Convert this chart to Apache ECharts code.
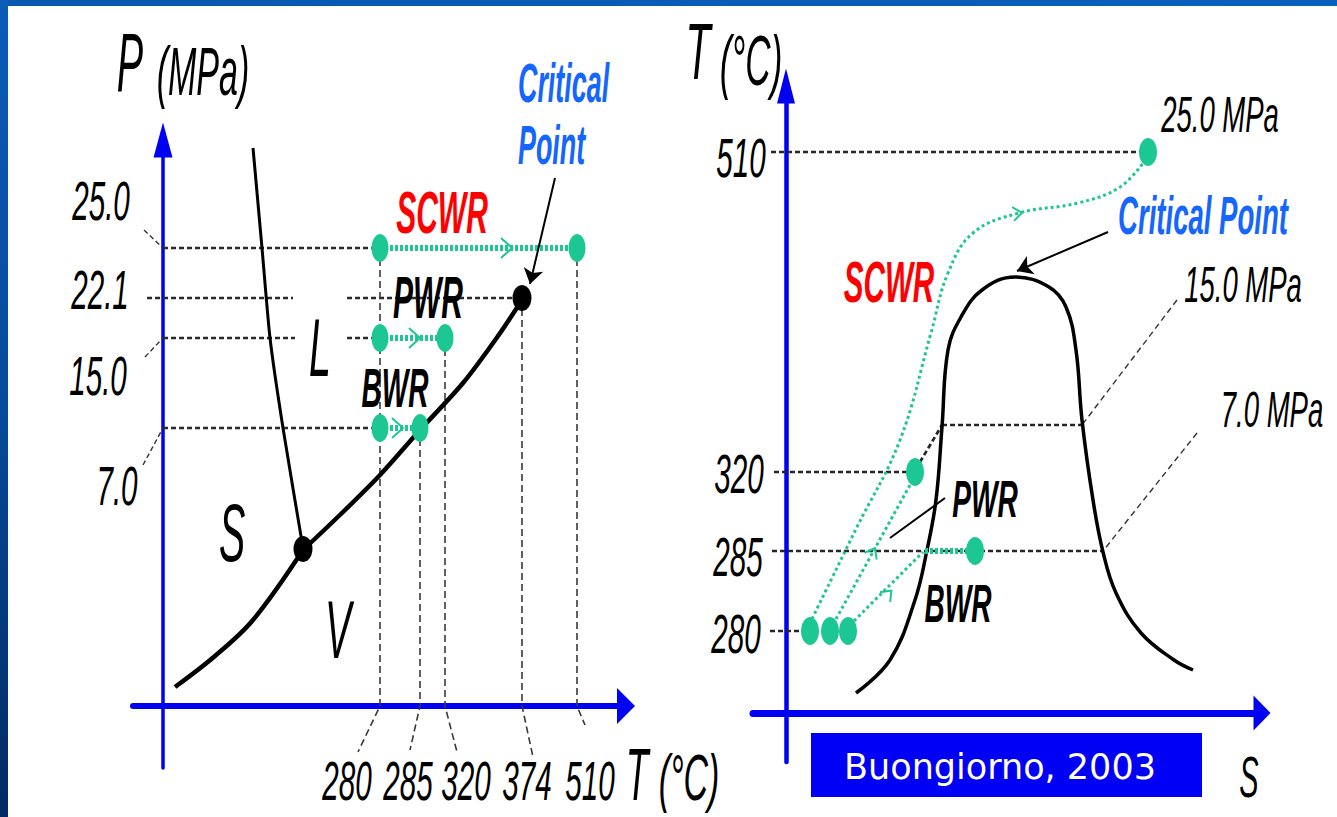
<!DOCTYPE html>
<html><head><meta charset="utf-8">
<script src="https://cdn.jsdelivr.net/npm/echarts@6/dist/echarts.min.js"></script>
<style>html,body{margin:0;padding:0;background:#fff;overflow:hidden}#c{width:1337px;height:817px}</style>
</head><body><div id="c"></div>
<script>
// ================= DATA (schematic diagram units) =================
// --- P-T diagram (left) ---
const ptTempLabels = ['280', '285', '320', '374', '510'];
const ptTempPos    = [217, 257, 282, 359, 414];
const ptPresLabels = ['25.0', '22.1', '15.0', '7.0'];
const ptPresPos    = [458, 408, 368, 278];
const sublimationCurve  = [[12, 19], [52, 50], [90, 86], [140, 156]];
const vaporizationCurve = [[140, 156], [180, 194], [217, 231], [257, 276], [300, 323], [335, 370], [359, 406]];
const meltingCurve      = [[90, 558], [99, 458], [107, 368], [120, 278], [140, 158]];
const triplePoint       = [140, 157];
const criticalT = '374', criticalP = '22.1';
// reactors: name, inlet T, outlet T, pressure
const reactorNames = ['SCWR', 'PWR', 'BWR'];
const reactorTin   = ['280', '280', '280'];
const reactorTout  = ['510', '320', '285'];
const reactorP     = ['25.0', '15.0', '7.0'];
const phaseLabels  = ['S', 'L', 'V'];

// --- T-s diagram (right) ---
const tsTempLabels = ['510', '320', '285', '280'];
const tsTempPos    = [561, 241, 162, 82];
const isobarLabels = ['25.0 MPa', '15.0 MPa', '7.0 MPa'];
const domeCurve = [[70, 20], [104, 53], [129, 113], [141, 163], [150, 213], [156, 286], [162, 363], [175, 396],
  [196, 423], [229, 436], [263, 426], [280, 406], [290, 363], [296, 293], [307, 213], [317, 161], [330, 120],
  [355, 80], [388, 53], [407, 43]];
const scwrTsPath = [[26, 94], [70, 184], [114, 273], [145, 380], [162, 440], [187, 480], [233, 500], [292, 510], [334, 526], [360, 554]];
const pwrTsPath  = [[50, 94], [124, 228]];
const bwrTsPath  = [[68, 92], [137, 161]];
const bwrTsBoil  = [[139, 162], [189, 162]];
const tsPoints   = [[24, 82], [44, 82], [62, 82], [129, 241], [189, 162], [362, 561]];
const tsPwrExt   = [[134, 251], [156, 288]];
const tsIsobar15 = [[156, 288], [296, 288]];

// ================= STYLE / LAYOUT =================
const GREEN = '#1dc794';
const AXIS_BLUE = '#0000f2';
const FONT = '"Liberation Sans", Arial, sans-serif';
const idxT = l => ptTempPos[ptTempLabels.indexOf(l)];
const idxP = l => ptPresPos[ptPresLabels.indexOf(l)];
const tsT = l => tsTempPos[tsTempLabels.indexOf(l)];

const chart = echarts.init(document.getElementById('c'), null, {renderer: 'svg', width: 1337, height: 817});

function textSeries(grid, items) {
  return {
    type: 'custom', coordinateSystem: 'cartesian2d', xAxisIndex: grid, yAxisIndex: grid,
    z: 20, silent: true, clip: false,
    data: items.map(it => [it.pos[0], it.pos[1]]),
    renderItem: function (params, api) {
      const it = items[params.dataIndex];
      const p = api.coord([api.value(0), api.value(1)]);
      return {
        type: 'text', x: p[0], y: p[1], scaleX: it.sx,
        style: {
          text: it.text, fontFamily: FONT, fontSize: it.size, fontStyle: 'italic',
          fontWeight: it.bold ? 'bold' : 'normal', fill: it.color || '#000',
          align: it.align || 'center', verticalAlign: 'middle'
        }
      };
    }
  };
}
function chevronSeries(grid, items, size, width) {
  return {
    type: 'custom', coordinateSystem: 'cartesian2d', xAxisIndex: grid, yAxisIndex: grid,
    z: 8, silent: true, clip: false,
    data: items,
    renderItem: function (params, api) {
      const p = api.coord([api.value(0), api.value(1)]);
      return {
        type: 'polyline', x: p[0], y: p[1], rotation: api.value(2) * Math.PI / 180,
        shape: {points: [[-size[0], -size[1]], [2, 0], [-size[0], size[1]]]},
        style: {stroke: GREEN, lineWidth: width, fill: null}
      };
    }
  };
}
function linesSeries(grid, polylines, style, z, extra) {
  return Object.assign({
    type: 'lines', coordinateSystem: 'cartesian2d', xAxisIndex: grid, yAxisIndex: grid,
    polyline: true, clip: false, silent: true, z: z,
    data: polylines.map(c => ({coords: c})),
    lineStyle: Object.assign({opacity: 1}, style)
  }, extra || {});
}
function curve(grid, data, color, width, smooth, z, type) {
  return {
    type: 'line', xAxisIndex: grid, yAxisIndex: grid, data: data, smooth: smooth,
    showSymbol: false, symbol: 'none', clip: false, silent: true, z: z,
    lineStyle: {color: color, width: width, type: type || 'solid', cap: 'butt'}
  };
}

// ---------- left panel geometry built from data ----------
const ptHGuides = [
  [[0, idxP('25.0')], [idxT('280'), idxP('25.0')]],
  [[-16, idxP('22.1')], [130, idxP('22.1')]],
  [[184, idxP('22.1')], [idxT(criticalT) - 7, idxP(criticalP)]],
  [[0, idxP('15.0')], [132, idxP('15.0')]],
  [[184, idxP('15.0')], [idxT('280'), idxP('15.0')]],
  [[0, idxP('7.0')], [idxT('280'), idxP('7.0')]]
];
const ptPLeaders = [
  [[-19, 476], [0, idxP('25.0')]],
  [[-18, 349], [0, idxP('15.0')]],
  [[-20, 241], [0, idxP('7.0')]]
];
const ptTempTop = ['25.0', '7.0', '15.0', '22.1', '25.0'];
const ptTempLeaderEnd = [[195, -46], [247, -44], [294, -46], [370, -51], [422, -19]];
const ptVGuides = ptTempLabels.map((l, i) => [[ptTempPos[i], idxP(ptTempTop[i])], [ptTempPos[i], 0], ptTempLeaderEnd[i]]);
const reactorLines = reactorNames.map((n, i) => [[idxT(reactorTin[i]), idxP(reactorP[i])], [idxT(reactorTout[i]), idxP(reactorP[i])]]);
const reactorDots = [];
reactorNames.forEach((n, i) => { reactorDots.push(reactorLines[i][0], reactorLines[i][1]); });
const ptChevrons = [[347, idxP('25.0'), 0], [255, idxP('15.0'), 0], [238, idxP('7.0'), 0]];

const ptTexts = [].concat(
  ptTempLabels.map((t, i) => ({text: t, pos: [[184, -74], [245, -74], [303, -74], [364, -74], [427, -74]][i], size: 56, sx: 0.53})),
  ptPresLabels.map((t, i) => ({text: t, pos: [[-62, 506], [-63, 417], [-65, 331], [-46, 221]][i], size: 56, sx: 0.53})),
  [
    {text: 'P', pos: [-33, 644], size: 84, sx: 0.47},
    {text: '(MPa)', pos: [40, 635], size: 68, sx: 0.5},
    {text: 'T', pos: [474, -68], size: 74, sx: 0.5},
    {text: '(°C)', pos: [526, -72], size: 64, sx: 0.53},
    {text: phaseLabels[0], pos: [69, 173], size: 82, sx: 0.48},
    {text: phaseLabels[1], pos: [157, 358], size: 82, sx: 0.48},
    {text: phaseLabels[2], pos: [175, 76], size: 82, sx: 0.48},
    {text: reactorNames[0], pos: [279, 494], size: 60, sx: 0.5, bold: true, color: '#ff0000'},
    {text: reactorNames[1], pos: [265, 409], size: 60, sx: 0.5, bold: true},
    {text: reactorNames[2], pos: [232, 319], size: 56, sx: 0.5, bold: true},
    {text: 'Critical', pos: [355, 624], size: 56, sx: 0.48, bold: true, color: '#1565ff', align: 'left'},
    {text: 'Point', pos: [355, 562], size: 56, sx: 0.48, bold: true, color: '#1565ff', align: 'left'}
  ]
);

// ---------- right panel ----------
const tsHGuides = [
  [[-15, tsT('510')], [362, tsT('510')]],
  [[-12, tsT('320')], [129, tsT('320')]],
  [[-14, tsT('285')], [317, tsT('285')]],
  [[-16, tsT('280')], [24, tsT('280')]],
  tsIsobar15, tsPwrExt
];
const tsLeaders = [[[391, 413], [296, 288]], [[411, 280], [317, 162]]];
const tsChevrons = [[234, 500, 8], [88, 163, 61], [104, 121, 46]];
const tsTexts = [].concat(
  tsTempLabels.map((t, i) => ({text: t, pos: [[-45, 556], [-47, 240], [-48, 157], [-50, 80]][i], size: 56, sx: 0.53})),
  isobarLabels.map((t, i) => ({text: t, pos: [[434, 598], [457, 428], [486, 303]][i], size: 50, sx: 0.55})),
  [
    {text: 'T', pos: [-88, 662], size: 80, sx: 0.51},
    {text: '(°C)', pos: [-35, 652], size: 70, sx: 0.5},
    {text: reactorNames[0], pos: [103, 430], size: 57, sx: 0.52, bold: true, color: '#ff0000'},
    {text: 'Critical Point', pos: [417, 497], size: 53, sx: 0.52, bold: true, color: '#1565ff'},
    {text: reactorNames[1], pos: [199, 214], size: 52, sx: 0.54, bold: true},
    {text: reactorNames[2], pos: [172, 110], size: 54, sx: 0.52, bold: true},
    {text: 'S', pos: [463, -64], size: 58, sx: 0.5}
  ]
);

function axisPair(grid, xr, yr, xw, yw, xArrow, yArrow) {
  return {
    x: {type: 'value', gridIndex: grid, min: xr[0], max: xr[1], axisTick: {show: false}, axisLabel: {show: false},
      splitLine: {show: false},
      axisLine: {show: true, onZero: true, symbol: ['none', 'triangle'], symbolSize: xArrow,
        lineStyle: {color: AXIS_BLUE, width: xw}}},
    y: {type: 'value', gridIndex: grid, min: yr[0], max: yr[1], axisTick: {show: false}, axisLabel: {show: false},
      splitLine: {show: false},
      axisLine: {show: true, onZero: true, symbol: ['none', 'triangle'], symbolSize: yArrow,
        lineStyle: {color: AXIS_BLUE, width: yw}}}
  };
}
const A0 = axisPair(0, [-30, 463], [-62, 566], 6, 3.5, [36, 18], [19, 35]);
const A1 = axisPair(1, [-33, 476], [-49, 627], 7, 4.5, [35, 17], [18, 35]);

const option = {
  backgroundColor: '#ffffff',
  animation: false,
  grid: [
    {left: 133, top: 140, width: 493, height: 628, containLabel: false, outerBoundsMode: 'none'},
    {left: 753, top: 86, width: 509, height: 676, containLabel: false, outerBoundsMode: 'none'}
  ],
  xAxis: [A0.x, A1.x],
  yAxis: [A0.y, A1.y],
  graphic: [
    {type: 'rect', z: 100, shape: {x: 0, y: 0, width: 1337, height: 6},
      style: {fill: {type: 'linear', x: 0, y: 0, x2: 1, y2: 0, colorStops: [{offset: 0, color: '#0857b0'}, {offset: 1, color: '#0a60bd'}]}}},
    {type: 'rect', z: 100, shape: {x: 0, y: 0, width: 8, height: 817},
      style: {fill: {type: 'linear', x: 0, y: 0, x2: 0, y2: 1, colorStops: [{offset: 0, color: '#0a5cb8'}, {offset: 0.5, color: '#064a9a'}, {offset: 1, color: '#022a62'}]}}},
    {type: 'rect', z: 100, shape: {x: 811, y: 733, width: 391, height: 64}, style: {fill: '#0000f5'}},
    {type: 'text', z: 101, x: 1000, y: 767,
      style: {text: 'Buongiorno, 2003', fill: '#ffffff', fontFamily: '"DejaVu Sans", sans-serif', fontSize: 35,
        align: 'center', verticalAlign: 'middle'}}
  ],
  series: [
    // ---- left P-T ----
    linesSeries(0, ptHGuides, {color: '#2a2a2a', width: 2.5, type: [5, 3]}, 2),
    linesSeries(0, ptPLeaders, {color: '#333', width: 1.4, type: [5, 3]}, 2),
    linesSeries(0, ptVGuides, {color: '#3a3a3a', width: 1.6, type: [7, 4]}, 2),
    curve(0, meltingCurve, '#000', 3, 0.2, 4),
    curve(0, sublimationCurve, '#000', 4.5, 0.35, 4),
    curve(0, vaporizationCurve, '#000', 4.5, 0.3, 4),
    linesSeries(0, reactorLines, {color: GREEN, width: 6, type: [3, 2], cap: 'butt'}, 5),
    chevronSeries(0, ptChevrons, [9, 10], 2),
    linesSeries(0, [[[392, 528], [367, 422]]], {color: '#000', width: 2}, 6,
      {polyline: false, symbol: ['none', 'arrow'], symbolSize: 15}),
    {type: 'scatter', xAxisIndex: 0, yAxisIndex: 0, z: 7, silent: true, symbol: 'circle', symbolSize: [17, 28],
      itemStyle: {color: GREEN, opacity: 1}, data: reactorDots},
    {type: 'scatter', xAxisIndex: 0, yAxisIndex: 0, z: 7, silent: true, symbol: 'circle', symbolSize: [19, 26],
      itemStyle: {color: '#000', opacity: 1}, data: [[idxT(criticalT), idxP(criticalP)], triplePoint]},
    textSeries(0, ptTexts),

    // ---- right T-s ----
    linesSeries(1, tsHGuides, {color: '#262626', width: 2.7, type: [5, 3]}, 2),
    linesSeries(1, tsLeaders, {color: '#333', width: 1.4, type: [6, 4]}, 2),
    linesSeries(1, [[[104, 175], [159, 215]]], {color: '#000', width: 2}, 6),
    linesSeries(1, [[[322, 481], [231, 442]]], {color: '#000', width: 2}, 6,
      {polyline: false, symbol: ['none', 'arrow'], symbolSize: 15}),
    curve(1, domeCurve, '#000', 3.5, 0.4, 4),
    curve(1, scwrTsPath, GREEN, 3, 0.4, 5, [3, 3]),
    curve(1, pwrTsPath, GREEN, 3, false, 5, [3, 3]),
    curve(1, bwrTsPath, GREEN, 3, false, 5, [3, 3]),
    linesSeries(1, [bwrTsBoil], {color: GREEN, width: 6, type: [3, 2], cap: 'butt'}, 5),
    chevronSeries(1, tsChevrons, [7, 7], 2),
    {type: 'scatter', xAxisIndex: 1, yAxisIndex: 1, z: 7, silent: true, symbol: 'circle', symbolSize: [18, 28],
      itemStyle: {color: GREEN, opacity: 1}, data: tsPoints},
    textSeries(1, tsTexts)
  ]
};
chart.setOption(option);
</script>
</body></html>
